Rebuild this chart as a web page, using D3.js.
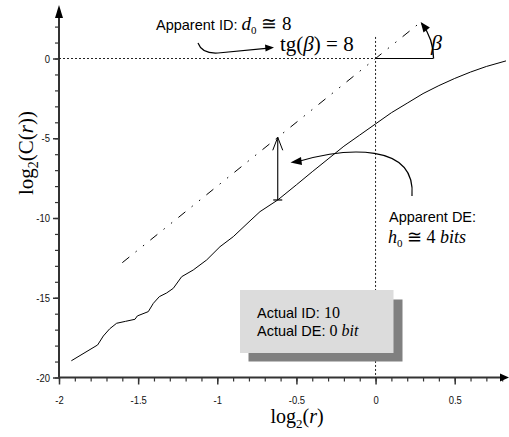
<!DOCTYPE html>
<html><head><meta charset="utf-8">
<script src="https://cdn.jsdelivr.net/npm/d3@7/dist/d3.min.js"></script>
<style>
html,body{margin:0;padding:0;background:#fff;}
svg{display:block;}
.tick text{font-family:'Liberation Sans Narrow','Liberation Sans',Arial,sans-serif;font-size:11px;fill:#111;}
</style></head>
<body><svg id="c" width="509" height="437"></svg>
<script>
// ---- data ----
const xTicks = [-2, -1.5, -1, -0.5, 0, 0.5];
const xTickLabels = ["-2", "-1.5", "-1", "-0.5", "0", "0.5"];
const yTicks = [-20, -15, -10, -5, 0];
const yTickLabels = ["-20", "-15", "-10", "-5", "0"];
const curveX = [-1.922,-1.756,-1.72,-1.68,-1.636,-1.58,-1.52,-1.505,-1.436,-1.404,-1.366,-1.32,-1.278,-1.225,-1.152,-1.067,-0.983,-0.899,-0.793,-0.73,-0.618,-0.5,-0.4,-0.3,-0.2,-0.1,0,0.1,0.2,0.3,0.4,0.5,0.6,0.7,0.824];
const curveY = [-18.95,-17.96,-17.4,-16.95,-16.6,-16.48,-16.35,-16.14,-15.87,-15.35,-14.93,-14.7,-14.41,-13.68,-13.26,-12.63,-11.8,-11.17,-10.18,-9.6,-8.87,-7.92,-7.1,-6.3,-5.5,-4.8,-4.1,-3.4,-2.8,-2.2,-1.7,-1.25,-0.85,-0.5,-0.15];
const refX = [-1.6, 0.27];   // apparent slope line, tg(beta) = 8
const refY = [-12.8, 2.16];
const deX = -0.618;          // apparent DE arrow position
const deTop = -4.94, deBottom = -8.87;

// ---- scales ----
const svg = d3.select("#c");
const x = d3.scaleLinear().domain([-2, 0.5]).range([59, 454.7]);
const y = d3.scaleLinear().domain([-20, 0]).range([377.5, 58.5]);
const axisCol = "#333";

// ---- axes ----
const gx = svg.append("g").attr("transform", `translate(0,${y(-20)})`);
gx.call(d3.axisBottom(x).tickValues(d3.range(-20, 9).map(d => d / 10)).tickSize(4).tickFormat(""));
gx.call(g => g.select(".domain").remove());
gx.selectAll(".tick line").attr("stroke", axisCol).attr("stroke-width", 1.2);
const gxM = svg.append("g").attr("transform", `translate(0,${y(-20)})`);
gxM.call(d3.axisBottom(x).tickValues(xTicks).tickSize(7).tickPadding(12).tickFormat((d, i) => xTickLabels[i]));
gxM.select(".domain").remove();
gxM.selectAll(".tick line").attr("stroke", axisCol).attr("stroke-width", 1.5);
gxM.selectAll(".tick text").attr("transform", "scale(0.86,1)");

const gy = svg.append("g").attr("transform", `translate(${x(-2)},0)`);
gy.call(d3.axisLeft(y).tickValues(d3.range(-20, 3)).tickSize(4).tickFormat(""));
gy.select(".domain").remove();
gy.selectAll(".tick line").attr("stroke", axisCol).attr("stroke-width", 1.2);
const gyM = svg.append("g").attr("transform", `translate(${x(-2)},0)`);
gyM.call(d3.axisLeft(y).tickValues(yTicks).tickSize(6).tickPadding(4.5).tickFormat((d, i) => yTickLabels[i]));
gyM.select(".domain").remove();
gyM.selectAll(".tick line").attr("stroke", axisCol).attr("stroke-width", 1.5);
gyM.selectAll(".tick text").attr("transform", "scale(0.86,1)");

// axis lines with arrows
svg.append("line").attr("x1", x(-2)).attr("x2", 502).attr("y1", y(-20)).attr("y2", y(-20)).attr("stroke", axisCol).attr("stroke-width", 2);
svg.append("path").attr("d", `M509,${y(-20)} L500,${y(-20) - 4} L500,${y(-20) + 4} Z`).attr("fill", "#000");
svg.append("line").attr("x1", x(-2)).attr("x2", x(-2)).attr("y1", y(-20)).attr("y2", 17).attr("stroke", axisCol).attr("stroke-width", 2);
svg.append("path").attr("d", `M${x(-2)},5 L${x(-2) - 4},18 L${x(-2) + 4},18 Z`).attr("fill", "#000");

// axis titles
svg.append("text").attr("x", 297).attr("y", 423).attr("text-anchor", "middle")
  .attr("font-family", "'Liberation Serif','Times New Roman',serif").attr("font-size", 20)
  .html('log<tspan font-size="13" dy="5">2</tspan><tspan dy="-5">(</tspan><tspan font-style="italic">r</tspan>)');
svg.append("text").attr("transform", "translate(33,153) rotate(-90)").attr("text-anchor", "middle")
  .attr("font-family", "'Liberation Serif','Times New Roman',serif").attr("font-size", 21)
  .html('log<tspan font-size="14" dy="5">2</tspan><tspan dy="-5">(C(</tspan><tspan font-style="italic">r</tspan>))');

// dotted reference lines
svg.append("line").attr("x1", x(-2)).attr("x2", x(0)).attr("y1", y(0)).attr("y2", y(0))
  .attr("stroke", "#222").attr("stroke-width", 1).attr("stroke-dasharray", "2,2");
svg.append("line").attr("x1", x(0)).attr("x2", x(0)).attr("y1", y(1.35)).attr("y2", y(-20))
  .attr("stroke", "#222").attr("stroke-width", 1).attr("stroke-dasharray", "2,2");
svg.append("line").attr("x1", x(0)).attr("x2", x(0.365)).attr("y1", y(0)).attr("y2", y(0))
  .attr("stroke", "#000").attr("stroke-width", 1.2);

// apparent slope line (dash-dot-dot)
svg.append("line").attr("x1", x(refX[0])).attr("y1", y(refY[0])).attr("x2", x(refX[1])).attr("y2", y(refY[1]))
  .attr("stroke", "#000").attr("stroke-width", 1).attr("stroke-dasharray", "9,8,1.5,8,1.5,8");

// main curve
const line = d3.line().x(d => x(d[0])).y(d => y(d[1])).curve(d3.curveLinear);
svg.append("path").attr("d", line(curveX.map((v, i) => [v, curveY[i]])))
  .attr("fill", "none").attr("stroke", "#000").attr("stroke-width", 1).attr("stroke-linejoin", "round");

// beta arc
const cx0 = x(0), cy0 = y(0), R = 58, a1 = 37 * Math.PI / 180;
const ex = cx0 + R * Math.cos(a1), ey = cy0 - R * Math.sin(a1);
svg.append("path").attr("d", `M${cx0 + R},${cy0} A${R},${R} 0 0 0 ${ex},${ey}`).attr("fill", "none").attr("stroke", "#000").attr("stroke-width", 1.3);
{
  const tx = -Math.sin(a1), ty = -Math.cos(a1);
  const L = 10, W = 4;
  const tipX = ex + tx * 2, tipY = ey + ty * 2;
  const bx = tipX - tx * L, by = tipY - ty * L;
  svg.append("path").attr("d", `M${tipX},${tipY} L${bx + ty * W},${by - tx * W} L${bx - ty * W},${by + tx * W} Z`).attr("fill", "#000");
}
svg.append("text").attr("x", 431).attr("y", 50).attr("font-family", "'Liberation Serif',serif").attr("font-size", 22).attr("font-style", "italic").text("β");

// Apparent ID annotation
svg.append("text").attr("x", 156).attr("y", 30).attr("font-family", "'Liberation Sans',Arial,sans-serif").attr("font-size", 14.5)
  .html('Apparent ID: <tspan font-family="Liberation Serif,serif" font-style="italic" font-size="19">d</tspan><tspan font-family="Liberation Serif,serif" font-size="11" dy="4">0</tspan><tspan font-family="Liberation Serif,serif" font-size="19" dy="-4"> ≅ 8</tspan>');
svg.append("path").attr("d", "M198,43 Q202,54 218,53 L266,48.3").attr("fill", "none").attr("stroke", "#000").attr("stroke-width", 1.2);
svg.append("path").attr("d", "M274,47.6 L265,44.5 L265.6,51.6 Z").attr("fill", "#000");
svg.append("text").attr("x", 280).attr("y", 51).attr("font-family", "'Liberation Serif',serif").attr("font-size", 21)
  .html('tg(<tspan font-style="italic">β</tspan>) = 8');

// apparent DE vertical arrow
const ax = x(deX);
svg.append("line").attr("x1", ax).attr("x2", ax).attr("y1", y(deBottom)).attr("y2", y(deTop)).attr("stroke", "#000").attr("stroke-width", 1.1);
svg.append("path").attr("d", `M${ax - 5},${y(deTop) + 13} L${ax},${y(deTop)} L${ax + 5},${y(deTop) + 13}`).attr("fill", "none").attr("stroke", "#000").attr("stroke-width", 1);
svg.append("line").attr("x1", ax - 4.5).attr("x2", ax + 4.5).attr("y1", y(deBottom)).attr("y2", y(deBottom)).attr("stroke", "#000").attr("stroke-width", 1.2);

// curved arrow from DE text
svg.append("path").attr("d", "M412,196 C416,142 345,148 300,161").attr("fill", "none").attr("stroke", "#000").attr("stroke-width", 1.2);
svg.append("path").attr("d", "M290.5,162.5 L301,157 L302,165 Z").attr("fill", "#000");

svg.append("text").attr("x", 389).attr("y", 222).attr("font-family", "'Liberation Sans',Arial,sans-serif").attr("font-size", 14.5).text("Apparent DE:");
svg.append("text").attr("x", 388).attr("y", 243).attr("font-family", "'Liberation Serif',serif").attr("font-size", 18)
  .html('<tspan font-style="italic">h</tspan><tspan font-size="11" dy="4">0</tspan><tspan dy="-4"> ≅ 4 </tspan><tspan font-style="italic">bits</tspan>');

// Actual box
svg.append("rect").attr("x", 248.5).attr("y", 299.5).attr("width", 154).attr("height", 62).attr("fill", "#808080");
svg.append("rect").attr("x", 240).attr("y", 290).attr("width", 153.5).attr("height", 63).attr("fill", "#dcdcdc");
svg.append("text").attr("x", 257).attr("y", 318).attr("font-family", "'Liberation Sans',Arial,sans-serif").attr("font-size", 14.5)
  .html('Actual ID: <tspan font-family="Liberation Serif,serif" font-size="16">10</tspan>');
svg.append("text").attr("x", 257).attr("y", 336).attr("font-family", "'Liberation Sans',Arial,sans-serif").attr("font-size", 14.5)
  .html('Actual DE: <tspan font-family="Liberation Serif,serif" font-size="16">0 </tspan><tspan font-family="Liberation Serif,serif" font-size="16" font-style="italic">bit</tspan>');
</script></body></html>
